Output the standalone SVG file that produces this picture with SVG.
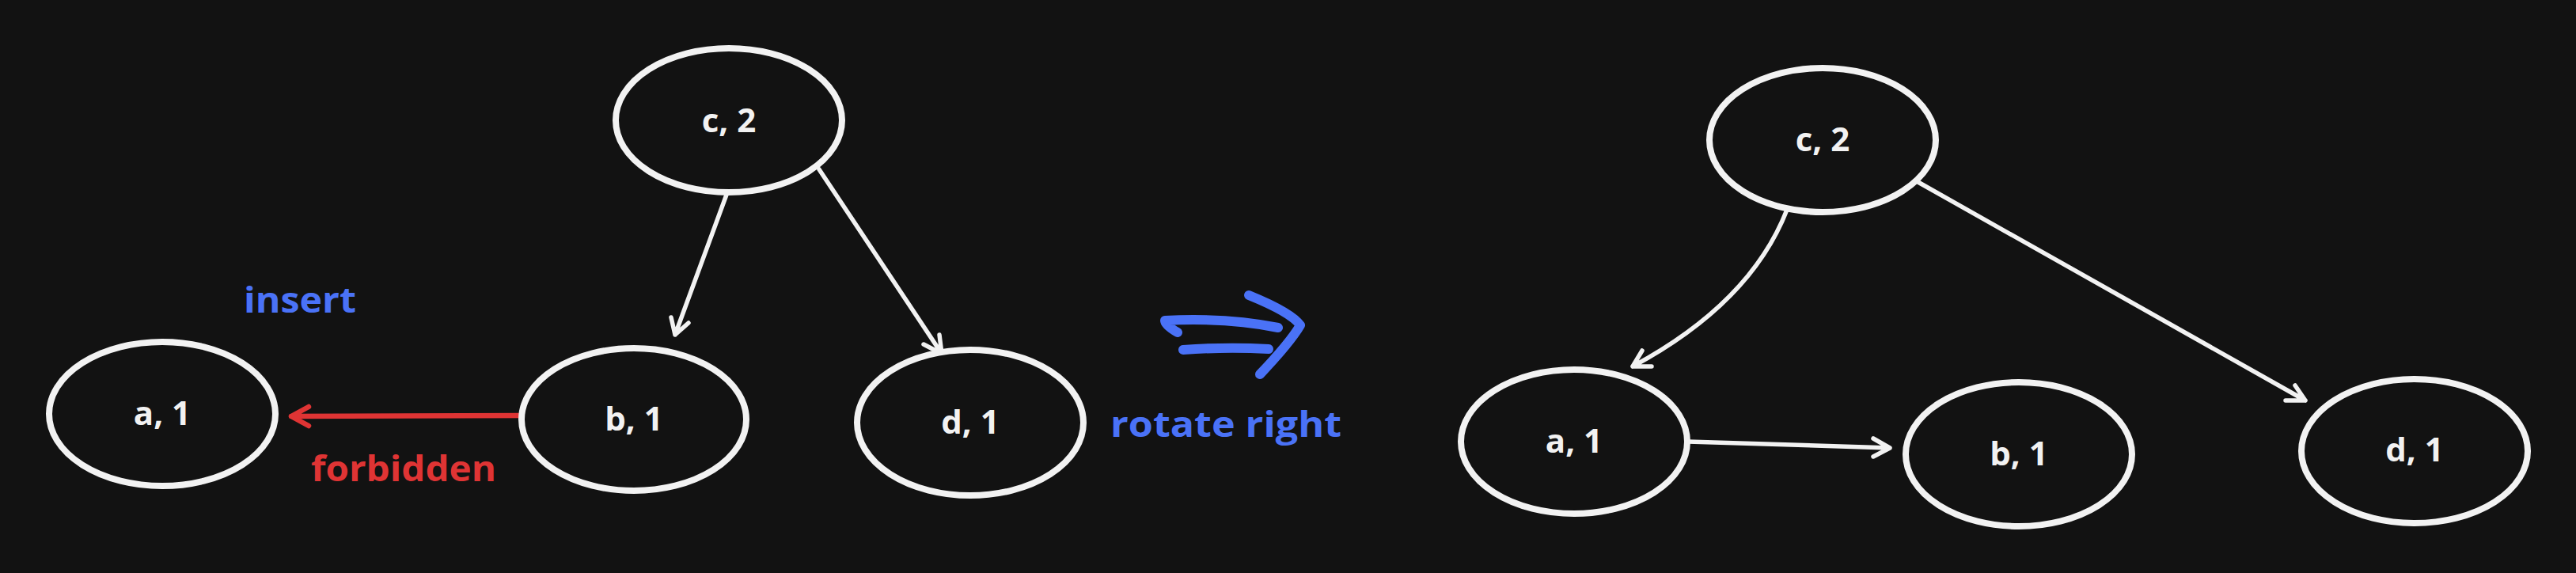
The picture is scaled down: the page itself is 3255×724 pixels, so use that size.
<svg xmlns="http://www.w3.org/2000/svg" width="3255" height="724" viewBox="0 0 3255 724">
<style>
.node{fill:#121212;stroke:#f2f2f2;stroke-width:8}
.lbl{font-family:"Open Sans","Liberation Sans",sans-serif;font-size:42px;font-weight:700;fill:#f2f2f2;text-anchor:middle}
.edge{fill:none;stroke:#f2f2f2;stroke-width:5.5;stroke-linecap:round;stroke-linejoin:round}
.red{fill:none;stroke:#df3434;stroke-width:6.5;stroke-linecap:round;stroke-linejoin:round}
.blue{fill:none;stroke:#4a72f7;stroke-width:12;stroke-linecap:round;stroke-linejoin:round}
.note{font-family:"Open Sans","Liberation Sans",sans-serif;font-size:44px;font-weight:700}
</style>
<rect x="0" y="0" width="3255" height="724" fill="#121212"/>

<g id="connectors">
  <!-- left tree -->
  <path class="edge" d="M918,246 L853,423 M848,401 L853,423 L870,408"/>
  <path class="edge" d="M1035,214 L1190,447 M1167,435 L1190,447 L1187,423"/>
  <path class="red" d="M662,525 L368,526 M390,514 L368,526 L390,538"/>
  <!-- right tree -->
  <path class="edge" d="M2258,265 Q2212,383 2063,463 M2075,443 L2063,463 L2087,463"/>
  <path class="edge" d="M2420,228 L2913,506 M2900,487 L2913,506 L2888,506"/>
  <path class="edge" d="M2133,558 L2388,566 M2367,554 L2388,566 L2367,577"/>
</g>

<g id="rotate-arrow">
  <path class="blue" d="M1488,420 Q1472,411 1472,405 Q1550,401 1615,414"/>
  <path class="blue" d="M1495,442 Q1550,438 1603,441"/>
  <path class="blue" d="M1578,373 Q1632,395 1643,411 Q1630,433 1592,473"/>
</g>

<g id="node-c-left">
  <ellipse class="node" cx="921" cy="152" rx="143" ry="91"/>
  <text class="lbl" x="921" y="167">c, 2</text>
</g>
<g id="node-a-left">
  <ellipse class="node" cx="205" cy="523" rx="143" ry="91"/>
  <text class="lbl" x="205" y="537">a, 1</text>
</g>
<g id="node-b-left">
  <ellipse class="node" cx="801" cy="530" rx="142" ry="90"/>
  <text class="lbl" x="801" y="544">b, 1</text>
</g>
<g id="node-d-left">
  <ellipse class="node" cx="1226" cy="534" rx="143" ry="92"/>
  <text class="lbl" x="1226" y="548">d, 1</text>
</g>

<g id="node-c-right">
  <ellipse class="node" cx="2303" cy="177" rx="143" ry="91"/>
  <text class="lbl" x="2303" y="191">c, 2</text>
</g>
<g id="node-a-right">
  <ellipse class="node" cx="1989" cy="558" rx="143" ry="91"/>
  <text class="lbl" x="1989" y="572">a, 1</text>
</g>
<g id="node-b-right">
  <ellipse class="node" cx="2551" cy="574" rx="143" ry="91"/>
  <text class="lbl" x="2551" y="588">b, 1</text>
</g>
<g id="node-d-right">
  <ellipse class="node" cx="3051" cy="570" rx="143" ry="91"/>
  <text class="lbl" x="3051" y="583">d, 1</text>
</g>

<g id="labels">
  <text class="note" x="308" y="395" fill="#4a72f7" textLength="142" lengthAdjust="spacingAndGlyphs">insert</text>
  <text class="note" x="393" y="608" fill="#df3434" textLength="234" lengthAdjust="spacingAndGlyphs">forbidden</text>
  <text class="note" x="1403" y="552" fill="#4a72f7" textLength="292" lengthAdjust="spacingAndGlyphs">rotate right</text>
</g>
</svg>
